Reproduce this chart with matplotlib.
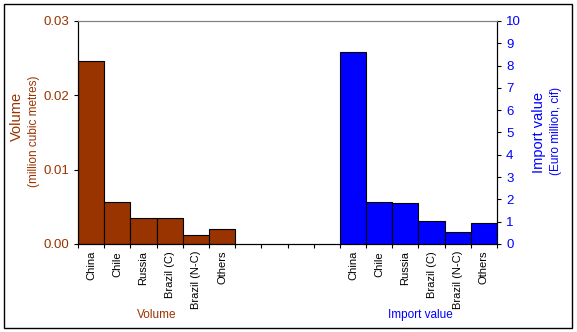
import matplotlib
matplotlib.use("Agg")
import matplotlib.pyplot as plt
from matplotlib.patches import Rectangle
import numpy as np

plt.rcParams['font.family'] = ['Liberation Sans', 'DejaVu Sans']

countries = ['China', 'Chile', 'Russia', 'Brazil (C)', 'Brazil (N-C)', 'Others']
volume = [0.0246, 0.0057, 0.00345, 0.00345, 0.0012, 0.002]
import_value = [8.6, 1.88, 1.84, 1.03, 0.52, 0.93]

brown = '#993300'
blue = '#0000FF'

fig = plt.figure(figsize=(5.77, 3.32), dpi=100)
ax = fig.add_axes([78/577, 88/332, 419/577, 223/332])
ax2 = ax.twinx()

n = len(countries)
gap = 4
pos_v = np.arange(n)
pos_i = np.arange(n) + n + gap

ax.bar(pos_v, volume, width=1, align='edge', color=brown, edgecolor='black', linewidth=0.8)
ax2.bar(pos_i, import_value, width=1, align='edge', color=blue, edgecolor='black', linewidth=0.8)

total = 2 * n + gap
ax.set_xlim(0, total)
ax.set_ylim(0, 0.03)
ax2.set_ylim(0, 10)

ax.set_yticks([0, 0.01, 0.02, 0.03])
ax.set_yticklabels(['0.00', '0.01', '0.02', '0.03'])
ax2.set_yticks(range(0, 11))

# slot boundary ticks, labels at centres
ax.set_xticks(np.arange(total + 1))
ax.set_xticklabels([])
ax.set_xticks(np.concatenate([pos_v, pos_i]) + 0.5, minor=True)
ax.set_xticklabels(countries + countries, minor=True, rotation=90, fontsize=8)
ax.tick_params(axis='x', which='major', direction='out', length=3, width=0.8)
ax.tick_params(axis='x', which='minor', length=0, pad=5)

ax.tick_params(axis='y', direction='out', length=3, width=0.8, labelsize=9.5, colors=brown)
ax.tick_params(axis='y', color='black')
ax2.tick_params(axis='y', direction='out', length=3, width=0.8, labelsize=9.5, labelcolor=blue, color='black')

for a in (ax, ax2):
    a.spines['top'].set_color('#808080')
    a.spines['top'].set_linewidth(0.8)
    a.spines['left'].set_linewidth(0.8)
    a.spines['right'].set_linewidth(0.8)
    a.spines['bottom'].set_linewidth(0.8)

fig.text(17/577, 1 - 116/332, 'Volume', rotation=90, color=brown, fontsize=10.5, ha='center', va='center')
fig.text(34/577, 1 - 131/332, '(million cubic metres)', rotation=90, color=brown, fontsize=8.5, ha='center', va='center')
fig.text(539/577, 1 - 132/332, 'Import value', rotation=90, color=blue, fontsize=10.5, ha='center', va='center')
fig.text(556/577, 1 - 131/332, '(Euro million, cif)', rotation=90, color=blue, fontsize=8.5, ha='center', va='center')

fig.text(157/577, 1 - 315/332, 'Volume', color=brown, fontsize=8.5, ha='center', va='center')
fig.text(420/577, 1 - 315/332, 'Import value', color=blue, fontsize=8.5, ha='center', va='center')

fig.add_artist(Rectangle((4/577, 4/332), 568/577, 324/332, transform=fig.transFigure,
                         fill=False, edgecolor='black', linewidth=1))

fig.savefig('out.png', dpi=100)
